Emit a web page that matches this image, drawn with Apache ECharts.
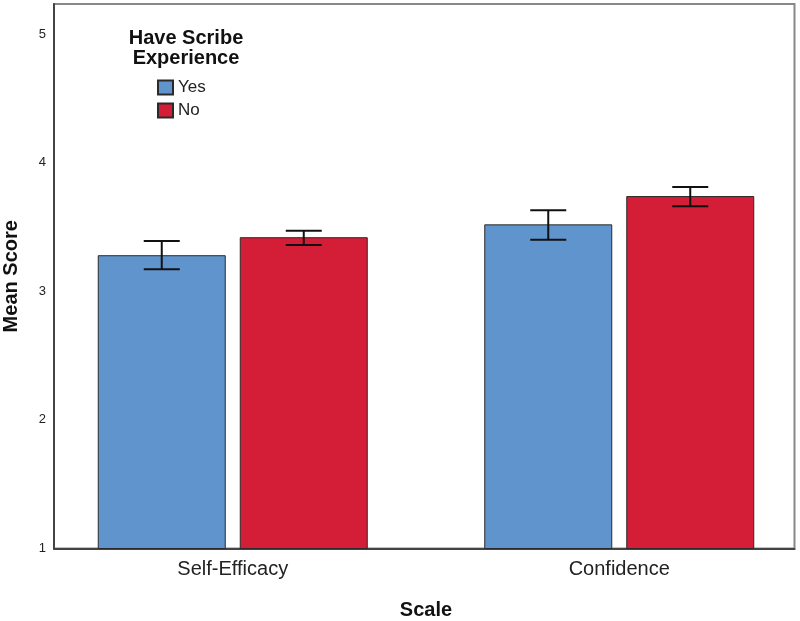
<!DOCTYPE html>
<html>
<head>
<meta charset="utf-8">
<script src="https://cdn.jsdelivr.net/npm/echarts@6/dist/echarts.min.js"></script>
<style>html,body{margin:0;padding:0;background:#fff}#c{width:800px;height:621px}</style>
</head>
<body>
<div id="c"></div>
<script>
var categories = ['Self-Efficacy', 'Confidence'];
var groups = ['Yes', 'No'];
var meanYes = [3.28, 3.52];
var meanNo = [3.42, 3.74];
var lowYes = [3.17, 3.40];
var highYes = [3.39, 3.63];
var lowNo = [3.36, 3.66];
var highNo = [3.47, 3.81];
var yTicks = [1, 2, 3, 4, 5];

var BAR_W = 128, BAR_GAP = 14, CAP = 36;
var FONT = '"Liberation Sans", Arial, sans-serif';
var colors = ['#5f94cd', '#d41d36'];

function errSeries(idx, lows, highs) {
  var offset = (idx === 0 ? -1 : 1) * (BAR_W + BAR_GAP) / 2;
  return {
    type: 'custom', xAxisIndex: 1, yAxisIndex: 1, silent: true, z: 5,
    data: lows.map(function (l, i) { return [i, l, highs[i]]; }),
    renderItem: function (params, api) {
      var lo = api.coord([api.value(0), api.value(1)]);
      var hi = api.coord([api.value(0), api.value(2)]);
      var x = lo[0] + offset;
      var st = { stroke: '#111', lineWidth: 2 };
      return { type: 'group', children: [
        { type: 'line', shape: { x1: x, y1: lo[1], x2: x, y2: hi[1] }, style: st },
        { type: 'line', shape: { x1: x - CAP / 2, y1: lo[1], x2: x + CAP / 2, y2: lo[1] }, style: st },
        { type: 'line', shape: { x1: x - CAP / 2, y1: hi[1], x2: x + CAP / 2, y2: hi[1] }, style: st }
      ]};
    }
  };
}

var chart = echarts.init(document.getElementById('c'), null, { renderer: 'canvas' });
chart.setOption({
  animation: false,
  backgroundColor: '#fff',
  textStyle: { fontFamily: FONT },
  title: {
    text: 'Have Scribe\nExperience',
    left: 181, top: 23, textAlign: 'center',
    textStyle: { fontFamily: FONT, fontSize: 20, fontWeight: 'bold', color: '#111', lineHeight: 20 }
  },
  legend: {
    data: groups, orient: 'vertical', left: 152, top: 74, padding: 5,
    icon: 'rect', itemWidth: 15, itemHeight: 14, itemGap: 6,
    textStyle: { fontFamily: FONT, fontSize: 17, color: '#222' }
  },
  grid: [
    { left: 54, right: 5.5, top: 4, bottom: 72.5, show: true, borderColor: '#888', borderWidth: 2,
      containLabel: false, outerBoundsMode: 'none' },
    { left: 39.5, width: 773, top: 4, bottom: 72.5, containLabel: false, outerBoundsMode: 'none' }
  ],
  xAxis: [
    { gridIndex: 0, type: 'value', min: 0, max: 1, axisLabel: { show: false }, axisTick: { show: false },
      splitLine: { show: false }, axisLine: { show: true, lineStyle: { color: '#444', width: 2 } } },
    { gridIndex: 1, type: 'category', data: categories, axisLine: { show: false }, axisTick: { show: false },
      axisLabel: { fontFamily: FONT, fontSize: 20, color: '#222', margin: 11 },
      name: 'Scale', nameLocation: 'middle', nameGap: 52,
      nameTextStyle: { fontFamily: FONT, fontSize: 20, fontWeight: 'bold', color: '#111' } }
  ],
  yAxis: [
    { gridIndex: 0, type: 'value', min: 1, max: 5.233, interval: 1,
      axisLine: { show: true, lineStyle: { color: '#444', width: 2 } },
      axisTick: { show: false }, splitLine: { show: false },
      axisLabel: { fontFamily: FONT, fontSize: 13, color: '#222', margin: 8, showMaxLabel: false,
        formatter: function (v) { return yTicks.indexOf(v) >= 0 ? String(v) : ''; } },
      name: 'Mean Score', nameLocation: 'middle', nameGap: 33,
      nameTextStyle: { fontFamily: FONT, fontSize: 20, fontWeight: 'bold', color: '#111' } },
    { gridIndex: 1, type: 'value', min: 1, max: 5.233, interval: 1, show: false, splitLine: { show: false } }
  ],
  series: [
    { name: 'Yes', type: 'bar', xAxisIndex: 1, yAxisIndex: 1, data: meanYes, barWidth: BAR_W,
      barGap: (BAR_GAP / BAR_W * 100) + '%',
      itemStyle: { color: colors[0], borderColor: '#2a2a2a', borderWidth: 1 } },
    { name: 'No', type: 'bar', xAxisIndex: 1, yAxisIndex: 1, data: meanNo, barWidth: BAR_W,
      barGap: (BAR_GAP / BAR_W * 100) + '%',
      itemStyle: { color: colors[1], borderColor: '#2a2a2a', borderWidth: 1 } },
    errSeries(0, lowYes, highYes),
    errSeries(1, lowNo, highNo)
  ]
});
</script>
</body>
</html>
